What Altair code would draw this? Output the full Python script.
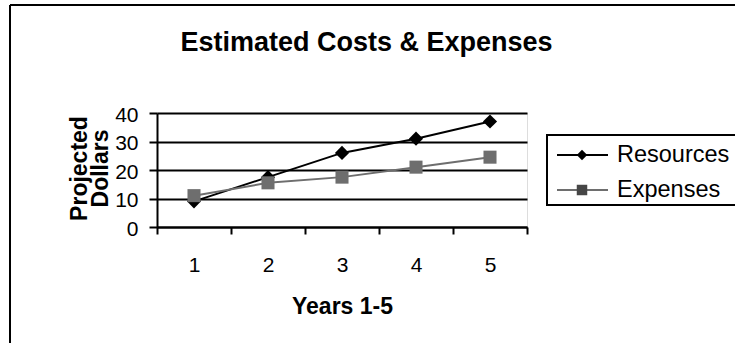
import altair as alt
import pandas as pd

title_text = "Estimated Costs & Expenses"
x_title = "Years 1-5"
y_title = ["Projected", "Dollars"]
years = ["1", "2", "3", "4", "5"]
series = ["Resources", "Expenses"]
resources = [9, 17.5, 26, 31, 37]
expenses = [11, 15.5, 17.5, 21, 24.5]
line_colors = ["#000000", "#6e6e6e"]
marker_colors = ["#000000", "#464646"]
shapes = ["diamond", "square"]
marker_sizes = [200, 170]

rows = []
for y, r, e in zip(years, resources, expenses):
    rows.append({"year": y, "series": "Resources", "value": r})
    rows.append({"year": y, "series": "Expenses", "value": e})
df = pd.DataFrame(rows)

FONT = "Liberation Sans"
W, H = 370, 114

x_enc = alt.X(
    "year:O",
    sort=years,
    scale=alt.Scale(type="band", paddingInner=0, paddingOuter=0),
    axis=alt.Axis(
        title=x_title,
        labelAngle=0,
        tickBand="extent",
        tickSize=7,
        tickWidth=2,
        tickColor="black",
        domainColor="black",
        domainWidth=2,
        labelFont=FONT,
        labelFontSize=21,
        labelColor="black",
        labelPadding=31,
        labelBaseline="middle",
        titleFont=FONT,
        titleFontSize=23,
        titleFontWeight="bold",
        titleColor="black",
        titleBaseline="middle",
        titleY=79,
        grid=False,
    ),
)
y_enc = alt.Y(
    "value:Q",
    scale=alt.Scale(domain=[0, 40]),
    axis=alt.Axis(
        title=y_title,
        values=[0, 10, 20, 30, 40],
        tickSize=8,
        tickWidth=2,
        tickColor="black",
        domainColor="black",
        domainWidth=2,
        grid=True,
        gridColor="black",
        gridWidth=2,
        labelFont=FONT,
        labelFontSize=21,
        labelColor="black",
        labelPadding=11,
        labelOffset=2,
        titleFont=FONT,
        titleFontSize=23,
        titleFontWeight="bold",
        titleColor="black",
        titleAngle=-90,
        titleAlign="center",
        titleBaseline="middle",
        titleLineHeight=21,
        titleX=-78,
        titleY=55,
    ),
)
color_line = alt.Color("series:N", scale=alt.Scale(domain=series, range=line_colors), legend=None)
color_pt = alt.Color("series:N", scale=alt.Scale(domain=series, range=marker_colors), legend=None)
shape_enc = alt.Shape("series:N", scale=alt.Scale(domain=series, range=shapes), legend=None)
size_enc = alt.Size("series:N", scale=alt.Scale(domain=series, range=marker_sizes), legend=None)

lines = alt.Chart(df).mark_line(strokeWidth=2).encode(
    x=x_enc, y=y_enc, color=color_line, detail="series:N"
)
points = alt.Chart(df).mark_point(filled=True, opacity=1).encode(
    x=x_enc, y=y_enc, color=color_pt, shape=shape_enc, size=size_enc
)

one = pd.DataFrame({"a": [0]})
layers = [lines, points]

# chart title
layers.append(alt.Chart(one).mark_text(text=title_text, align="center", baseline="alphabetic",
                                       font=FONT, fontSize=27, fontWeight="bold",
                                       color="black").encode(
    x=alt.value(209.5), y=alt.value(-62)))

# outer frame (chart area border)
layers.append(alt.Chart(one).mark_rule(color="black", strokeWidth=2).encode(
    x=alt.value(-147), y=alt.value(-108), y2=alt.value(240)))
layers.append(alt.Chart(one).mark_rule(color="black", strokeWidth=2).encode(
    x=alt.value(-147), x2=alt.value(600), y=alt.value(-108)))

# legend box
layers.append(alt.Chart(one).mark_rect(fill="white", stroke="black", strokeWidth=2).encode(
    x=alt.value(390), x2=alt.value(600), y=alt.value(22), y2=alt.value(92)))
for i, name in enumerate(series):
    yy = 42 + i * 35
    layers.append(alt.Chart(one).mark_rule(color=line_colors[i], strokeWidth=2).encode(
        x=alt.value(400), x2=alt.value(451), y=alt.value(yy)))
    layers.append(alt.Chart(one).mark_point(filled=True, opacity=1, size=110,
                                            shape=shapes[i], color=marker_colors[i]).encode(
        x=alt.value(425), y=alt.value(yy)))
    layers.append(alt.Chart(one).mark_text(text=name, align="left", baseline="middle",
                                           font=FONT, fontSize=23.5, color="black").encode(
        x=alt.value(460), y=alt.value(yy)))

chart = alt.layer(*layers).properties(
    width=W,
    height=H,
    autosize=alt.AutoSizeParams(type="none"),
    padding={"left": 157, "top": 113, "right": 208, "bottom": 116},
).configure_view(
    fill="#C0C0C0", stroke="#808080", strokeWidth=2
).configure(background="white")

chart.save("out.html", embed_options={"renderer": "svg", "actions": False})
